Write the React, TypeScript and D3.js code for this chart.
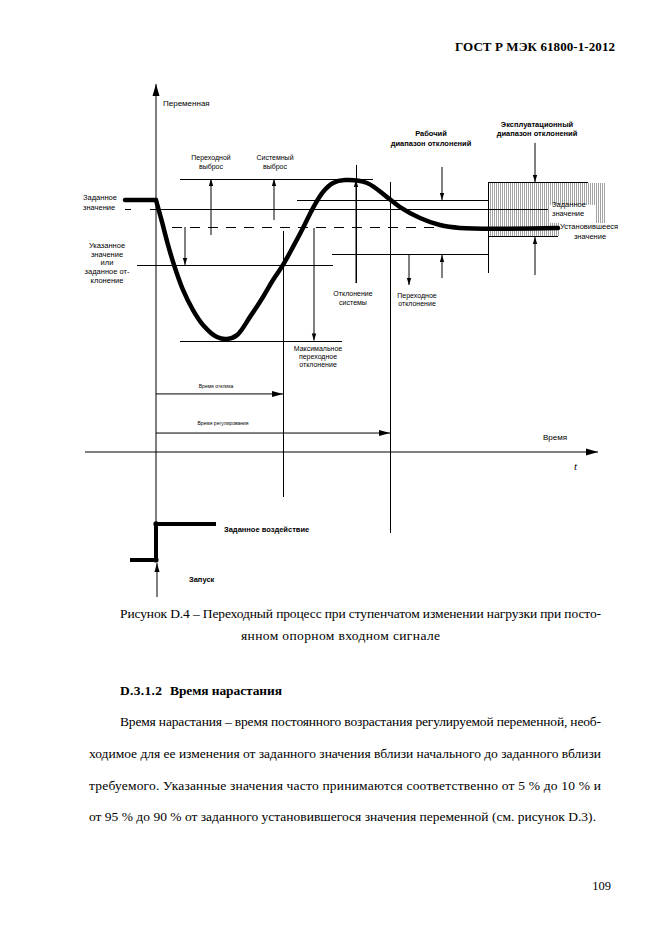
import React from 'react';
import * as d3 from 'd3';

const W = 661;
const H = 935;

// controlled variable after the load step (setpoint level = 100)
const curveT = [0, 1.5, 3, 4.5, 6.75, 9.25, 11.75, 15.25, 17.75, 20.25, 23.5, 26.75, 29.25, 31.75, 34.25, 36.75, 39.25, 41.75, 44.25, 47.25, 52.75, 57.75, 61, 66, 71, 76, 100.5];
const curveV = [103.7, 94.7, 85.2, 77.0, 66.7, 58.4, 52.3, 47.3, 46.5, 48.1, 55.6, 63.8, 70.8, 77.0, 84.4, 92.2, 100.4, 107.0, 110.7, 111.9, 110.7, 104.9, 100.8, 96.3, 93.4, 92.2, 92.2];
const startT = [-7.75, 0];
const startV = [103.7, 103.7];

// step input (Заданное воздействие)
const stepT = [-6.5, 0, 0, 15];
const stepV = [-44.4, -44.4, -29.6, -29.6];

// horizontal reference levels
const levelV = [112.3, 100, 103.5, 92.2, 76.8, 81.3, 45.5, 111.1, 88.5];
const levelFrom = [6, -1.5, 35.25, 4, -4.75, 44, 6, 83, 83];
const levelTo = [54.25, 98, 83, 71, 44.25, 83, 46.5, 108, 100.5];
const levelDashed = [false, false, false, true, false, false, false, false, false];

// vertical marker lines
const markT = [31.75, 58.5, 83, 50];
const markFrom = [90.9, 111.1, 111.1, 69.5];
const markTo = [-18.5, -33.3, 73.7, 118.1];

// vertical arrows (head at "to")
const arrowT = [13.75, 29.5, 7.25, 39.5, 50, 63.25, 71.5, 71.5, 94.75, 94.75];
const arrowFrom = [89.3, 95.5, 92.6, 92.2, 69.5, 81.1, 117.3, 71.6, 127.2, 72.8];
const arrowTo = [112.3, 112.3, 77.0, 45.9, 111.9, 68.7, 103.7, 81.1, 111.1, 88.5];

// time spans from t = 0
const spanV = [23.9, 7.8];
const spanTo = [31.75, 58.5];

const paragraph = [
  'ходимое для ее изменения от заданного значения вблизи начального до заданного вблизи',
  'требуемого. Указанные значения часто принимаются соответственно от 5 % до 10 % и',
];

const x = d3.scaleLinear().domain([0, 110]).range([156, 596]);
const y = d3.scaleLinear().domain([0, 100]).range([452, 209]);

const head = (x1: number, y1: number, x2: number, y2: number, len: number, hw: number) => {
  const a = Math.atan2(y2 - y1, x2 - x1);
  const bx = x2 - len * Math.cos(a);
  const by = y2 - len * Math.sin(a);
  const px = -Math.sin(a) * hw;
  const py = Math.cos(a) * hw;
  return `${x2},${y2} ${bx + px},${by + py} ${bx - px},${by - py}`;
};

const Arrow = ({ x1, y1, x2, y2, len = 7, hw = 2.2 }: any) => (
  <g>
    <line x1={x1} y1={y1} x2={x2} y2={y2} stroke="#000" strokeWidth={1} />
    <polygon points={head(x1, y1, x2, y2, len, hw)} fill="#000" />
  </g>
);

const sans = 'Liberation Sans, Arial, sans-serif';
const serif = 'Liberation Serif, Times New Roman, serif';

export default function App() {
  const lineGen = d3
    .line<number>()
    .x((d, i) => x(curveT[i]))
    .y((d) => y(d))
    .curve(d3.curveCatmullRom.alpha(0.5));
  const straight = d3
    .line<number>()
    .x((d, i) => x(startT[i]))
    .y((d) => y(d));
  const stepGen = d3
    .line<number>()
    .x((d, i) => x(stepT[i]))
    .y((d) => y(d));

  const lbl = (t: number, v: number, s: string, anchor = 'middle', size = 7, bold = false) => (
    <text
      x={x(t)}
      y={y(v)}
      textAnchor={anchor}
      fontSize={size}
      fontWeight={bold ? 'bold' : 'normal'}
      fontFamily={sans}
    >
      {s}
    </text>
  );

  return (
    <svg
      width={W}
      height={H}
      viewBox={`0 0 ${W} ${H}`}
      style={{ position: 'absolute', left: 0, top: 0, background: '#fff' }}
    >
      <defs>
        <pattern id="hatch" width={2} height={4} patternUnits="userSpaceOnUse">
          <rect width={1} height={4} fill="#a3a3a3" />
        </pattern>
      </defs>

      {/* page header */}
      <text x={615} y={51} textAnchor="end" fontFamily={serif} fontWeight="bold" fontSize={13} textLength={160}>
        ГОСТ Р МЭК 61800-1-2012
      </text>

      {/* operating deviation band */}
      <rect x={x(83.5)} y={y(110.7)} width={x(112.5) - x(83.5)} height={y(88.9) - y(110.7)} fill="url(#hatch)" />
      <rect x={x(98.5)} y={y(101.7)} width={46} height={18} fill="#fff" />
      <rect x={x(100.75)} y={y(94.2)} width={70} height={20} fill="#fff" />

      {/* axes */}
      <Arrow x1={x(-17.75)} y1={y(0)} x2={x(110.5)} y2={y(0)} len={12} hw={3.5} />
      <Arrow x1={x(0)} y1={y(-29.6)} x2={x(0)} y2={y(151.4)} len={12} hw={3.5} />

      {/* reference levels */}
      <g shapeRendering="crispEdges">
        {levelV.map((v, i) => (
          <line
            key={'l' + i}
            x1={x(levelFrom[i])}
            x2={x(levelTo[i])}
            y1={y(v)}
            y2={y(v)}
            stroke="#000"
            strokeWidth={1}
            strokeDasharray={levelDashed[i] ? '10,8' : undefined}
          />
        ))}
        <line x1={x(-7.75)} x2={x(-6.25)} y1={y(100)} y2={y(100)} stroke="#000" />
        {markT.map((t, i) => (
          <line key={'m' + i} x1={x(t)} x2={x(t)} y1={y(markFrom[i])} y2={y(markTo[i])} stroke="#000" strokeWidth={1} />
        ))}
      </g>

      {/* annotation arrows */}
      {arrowT.map((t, i) => (
        <Arrow key={'a' + i} x1={x(t)} y1={y(arrowFrom[i])} x2={x(t)} y2={y(arrowTo[i])} />
      ))}
      {spanV.map((v, i) => (
        <Arrow key={'s' + i} x1={x(0)} y1={y(v)} x2={x(spanTo[i])} y2={y(v)} len={11} hw={3} />
      ))}
      <Arrow x1={x(0.25)} y1={y(-59.7)} x2={x(0.25)} y2={y(-45.7)} len={9} hw={2.5} />

      {/* process curve */}
      <path d={straight(startV) || ''} fill="none" stroke="#000" strokeWidth={4.5} strokeLinecap="round" />
      <path d={lineGen(curveV) || ''} fill="none" stroke="#000" strokeWidth={4.5} strokeLinecap="round" strokeLinejoin="round" />

      {/* step input */}
      <path d={stepGen(stepV) || ''} fill="none" stroke="#000" strokeWidth={4} />
      <circle cx={x(0)} cy={y(-29.6)} r={2.6} fill="#000" />
      <circle cx={x(0)} cy={y(-44.4)} r={2.6} fill="#000" />

      {/* diagram labels */}
      {lbl(1.75, 142.4, 'Переменная', 'start', 8)}
      {lbl(13.75, 120.2, 'Переходной')}
      {lbl(13.75, 116.5, 'выброс')}
      {lbl(29.75, 120.2, 'Системный')}
      {lbl(29.75, 116.5, 'выброс')}
      {lbl(-18.25, 103.7, 'Заданное', 'start', 7.5)}
      {lbl(-18.25, 99.6, 'значение', 'start', 7.5)}
      {lbl(-12.25, 84.0, 'Указанное', 'middle', 7.5)}
      {lbl(-12.25, 80.4, 'значение', 'middle', 7.5)}
      {lbl(-12.25, 76.9, 'или', 'middle', 7.5)}
      {lbl(-12.25, 73.2, 'заданное от-', 'middle', 7.5)}
      {lbl(-12.25, 69.5, 'клонение', 'middle', 7.5)}
      {lbl(68.75, 130.0, 'Рабочий', 'middle', 7.5, true)}
      {lbl(68.75, 125.9, 'диапазон отклонений', 'middle', 7.5, true)}
      {lbl(95.25, 133.7, 'Эксплуатационный', 'middle', 7.5, true)}
      {lbl(95.25, 130.0, 'диапазон отклонений', 'middle', 7.5, true)}
      {lbl(99, 100.8, 'Заданное', 'start', 7.5)}
      {lbl(99, 97.1, 'значение', 'start', 7.5)}
      {lbl(101, 91.8, 'Установившееся', 'start', 7.5)}
      {lbl(108.5, 87.7, 'значение', 'middle', 7.5)}
      {lbl(49.25, 64.2, 'Отклонение')}
      {lbl(49.25, 60.5, 'системы')}
      {lbl(65.25, 63.4, 'Переходное')}
      {lbl(65.25, 60.1, 'отклонение')}
      {lbl(40.5, 41.6, 'Максимальное')}
      {lbl(40.5, 38.3, 'переходное')}
      {lbl(40.5, 35.0, 'отклонение')}
      {lbl(15, 26.3, 'Время отклика', 'middle', 5)}
      {lbl(16.75, 11.1, 'Время регулирования', 'middle', 5)}
      {lbl(96.75, 4.9, 'Время', 'start', 8)}
      <text x={x(104.5)} y={y(-7.4)} fontFamily={serif} fontStyle="italic" fontSize={11}>
        t
      </text>
      {lbl(17, -32.9, 'Заданное воздействие', 'start', 7.5, true)}
      {lbl(8.25, -53.5, 'Запуск', 'start', 7.5, true)}

      {/* caption and body text */}
      <g fontFamily={serif} fontSize={13.5}>
        <text x={120} y={618} textLength={481} lengthAdjust="spacing">
          Рисунок D.4 – Переходный  процесс при ступенчатом изменении нагрузки при посто-
        </text>
        <text x={241} y={640} textLength={199} lengthAdjust="spacing">
          янном опорном входном сигнале
        </text>
        <text x={120} y={695} fontWeight="bold" textLength={42} lengthAdjust="spacing">
          D.3.1.2
        </text>
        <text x={170} y={695} fontWeight="bold" textLength={112} lengthAdjust="spacing">
          Время нарастания
        </text>
        <text x={120} y={726} textLength={481} lengthAdjust="spacing">
          Время нарастания –  время постоянного возрастания регулируемой переменной, необ-
        </text>
        {paragraph.map((s, i) => (
          <text key={i} x={89} y={758 + i * 32} textLength={512} lengthAdjust="spacing">
            {s}
          </text>
        ))}
        <text x={89} y={821} textLength={507} lengthAdjust="spacing">
          от 95 % до 90 % от заданного установившегося значения переменной (см. рисунок D.3).
        </text>
        <text x={611} y={890} textAnchor="end" fontSize={12.5}>
          109
        </text>
      </g>
    </svg>
  );
}
